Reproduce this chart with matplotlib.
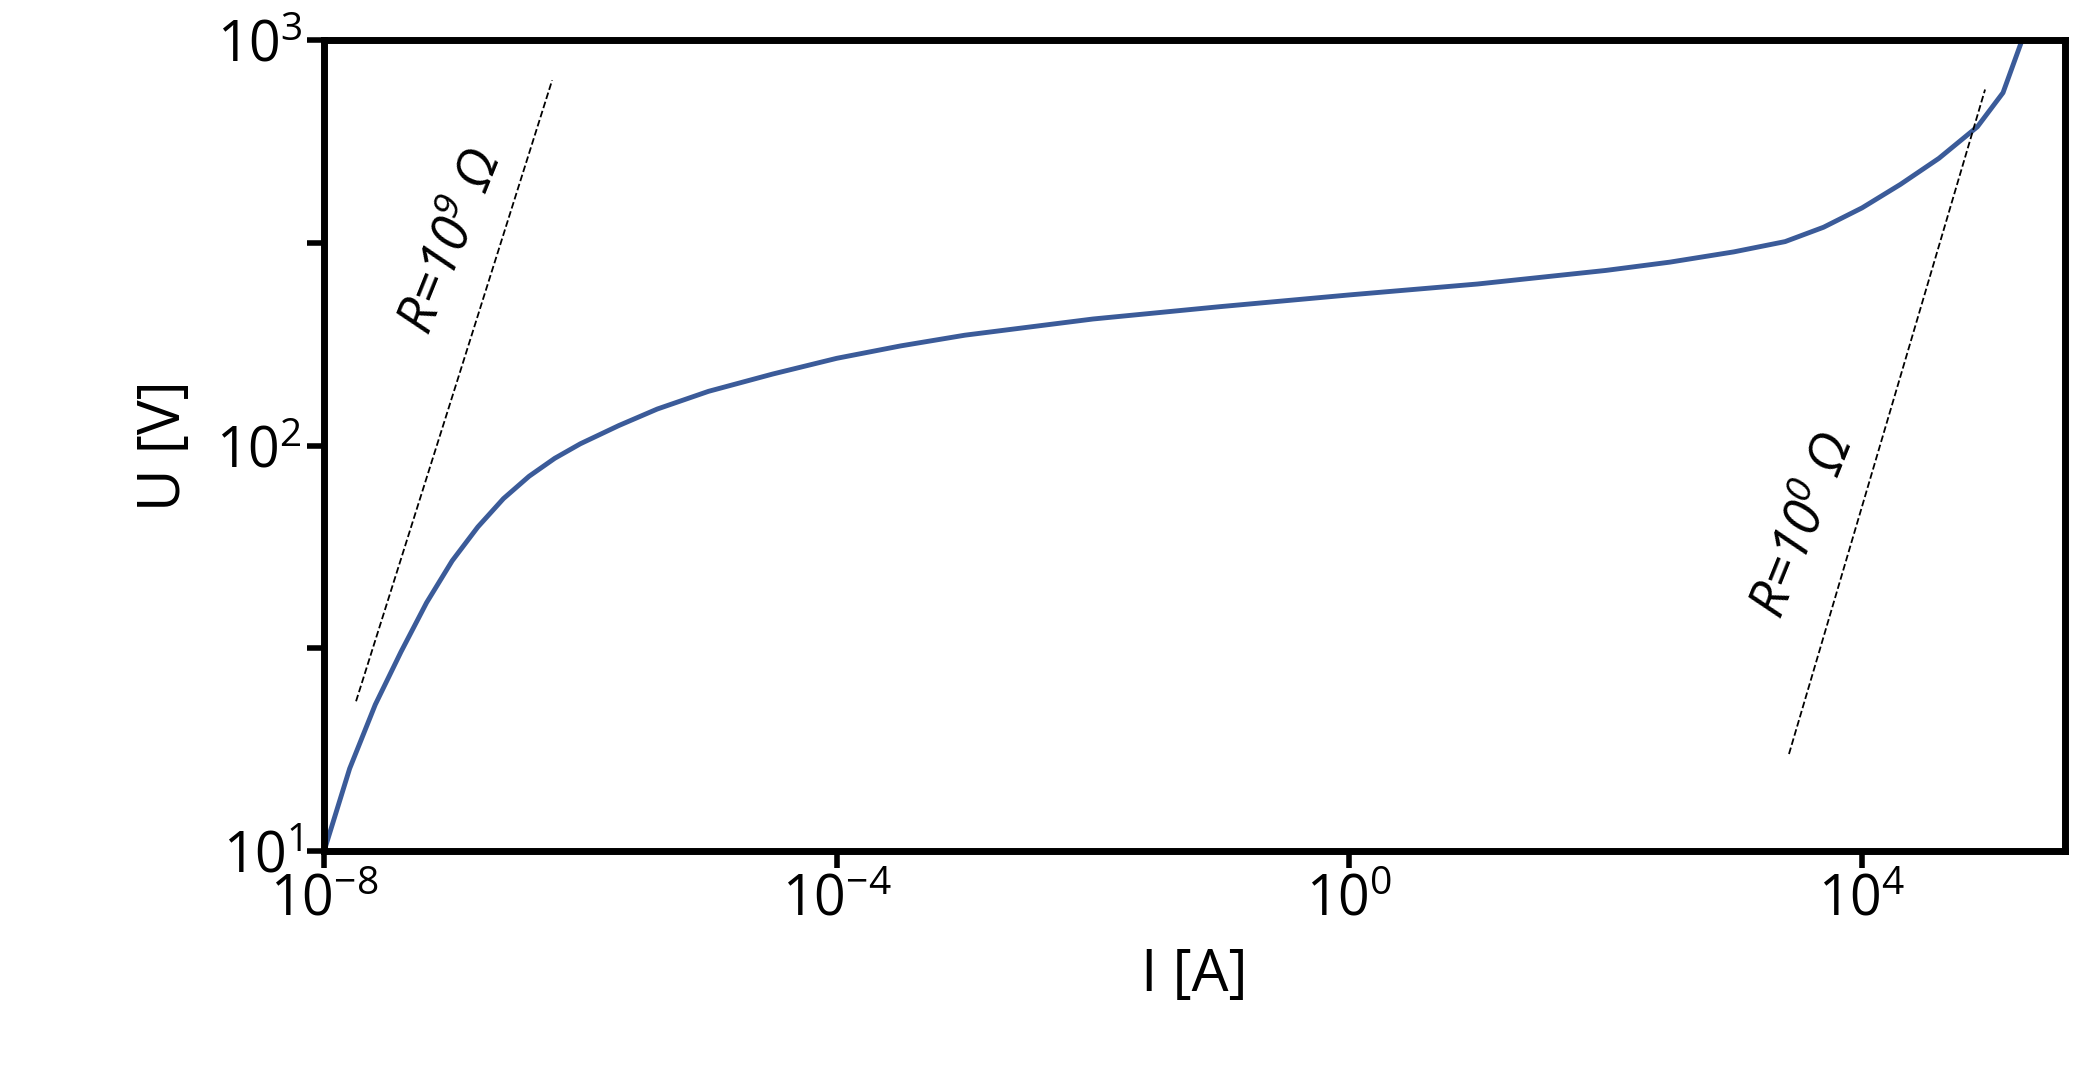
import numpy as np
import matplotlib.pyplot as plt

plt.rcParams['font.family'] = ['Open Sans', 'DejaVu Sans']
plt.rcParams['mathtext.fontset'] = 'custom'
plt.rcParams['mathtext.rm'] = 'Open Sans'
plt.rcParams['mathtext.it'] = 'Open Sans:italic'
plt.rcParams['mathtext.default'] = 'regular'

# curve (log10 of current, voltage)
log_i = [-8, -7.8, -7.6, -7.4, -7.2, -7.0, -6.8, -6.6, -6.4, -6.2, -6.0, -5.7, -5.4, -5.0, -4.5,
         -4, -3.5, -3, -2, -1, 0, 1, 2, 2.5, 3, 3.4, 3.7, 4.0, 4.3, 4.6, 4.9, 5.1, 5.25]
u_v = [10, 16, 23, 31, 41, 52, 63, 74, 84, 93, 101, 112, 123, 136, 150,
       164, 176, 187, 205, 220, 235, 250, 270, 283, 300, 318, 345, 385, 440, 510, 610, 740, 1000]

# guide lines: R values, log-current ranges, offsets in log U
r_vals = [1e9, 1e0]
guide_ranges = [(-7.75, -6.22), (3.43, 4.96)]
guide_offsets = [0.12, -2.19]
guide_slopes = [1.0, 1.07]

fig = plt.figure(figsize=(20.77, 10.71), dpi=100)
ax = fig.add_axes([0.156, 0.205, 0.838, 0.758])

ax.plot(10.0 ** np.array(log_i), u_v, color='#3B5B99', lw=3.5, solid_joinstyle='round')

for r, (a, b), off, s in zip(r_vals, guide_ranges, guide_offsets, guide_slopes):
    li = np.linspace(a, b, 20)
    lu = s * (li - a) + (a + np.log10(r) + off)
    ax.plot(10.0 ** li, 10.0 ** lu, 'k--', lw=1.3)

ax.text(10 ** -7.0, 10 ** 2.5, r'R=10$^{9}$ Ω', rotation=68, fontsize=38,
        style='italic', ha='center', va='center')
ax.text(10 ** 3.55, 10 ** 1.8, r'R=10$^{0}$ Ω', rotation=68, fontsize=38,
        style='italic', ha='center', va='center')

ax.set_xscale('log')
ax.set_yscale('log')
ax.set_xlim(1e-8, 10 ** 5.58)
ax.set_ylim(10, 1000)
ax.set_xticks([1e-8, 1e-4, 1e0, 1e4])
ax.set_xticklabels(['10$^{-8}$', '10$^{-4}$', '10$^{0}$', '10$^{4}$'])
ax.set_yticks([10, 10 ** 1.5, 100, 10 ** 2.5, 1000])
ax.set_yticklabels(['10$^{1}$', '', '10$^{2}$', '', '10$^{3}$'])
ax.minorticks_off()
ax.tick_params(labelsize=40, width=4, length=12, direction='out')
for sp in ax.spines.values():
    sp.set_linewidth(5)
ax.set_xlabel('I [A]', fontsize=42, labelpad=12)
ax.set_ylabel('U [V]', fontsize=42, labelpad=16)

fig.savefig('out.png', dpi=100)
